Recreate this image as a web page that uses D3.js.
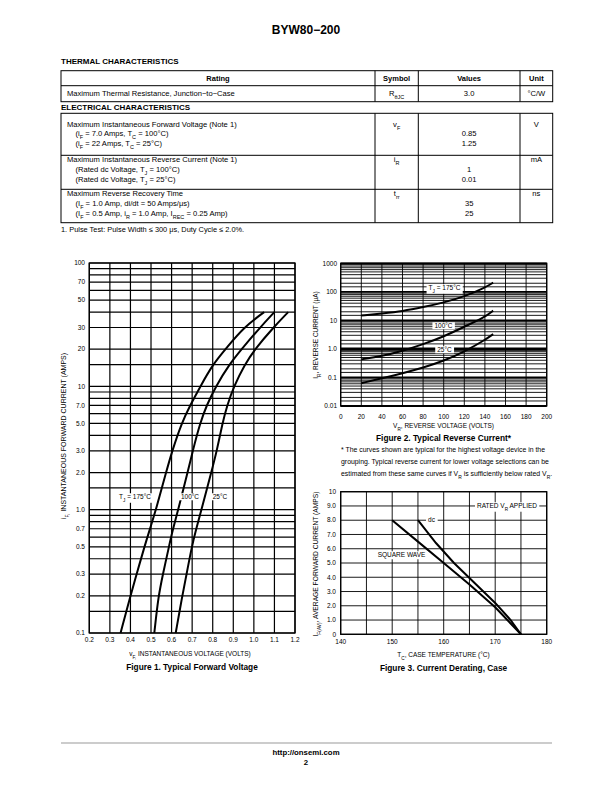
<html>
<head>
  <script src="https://d3js.org/d3.v7.min.js"></script>
  <style>
    body { margin: 0; background: #fff; }
    text { font-family: "Liberation Sans", Arial, Helvetica, sans-serif; fill: #000; }
    .grid line { stroke: #000; stroke-width: 0.9; }
    #fig1 .grid line { stroke-width: 1.2; }
    .frame { fill: none; stroke: #000; stroke-width: 1.3; }
    .curve { fill: none; stroke: #000; stroke-width: 2; }
  </style>
</head>
<body>
  <svg id="page" width="612" height="792"></svg>
  <script>
    // ---- table data ----
    const thermalHeader = ["Rating", "Symbol", "Values", "Unit"];
    const thermalRow = ["Maximum Thermal Resistance, Junction\u2212to\u2212Case", "R_{\u03b8JC}", "3.0", "\u00b0C/W"];
    const elecRows = [
      { lines: ["Maximum Instantaneous Forward Voltage (Note 1)", "(i_{F} = 7.0 Amps, T_{C} = 100\u00b0C)", "(i_{F} = 22 Amps, T_{C} = 25\u00b0C)"],
        symbol: "v_{F}", values: ["0.85", "1.25"], unit: "V" },
      { lines: ["Maximum Instantaneous Reverse Current (Note 1)", "(Rated dc Voltage, T_{J} = 100\u00b0C)", "(Rated dc Voltage, T_{J} = 25\u00b0C)"],
        symbol: "i_{R}", values: ["1", "0.01"], unit: "mA" },
      { lines: ["Maximum Reverse Recovery Time", "(I_{F} = 1.0 Amp, di/dt = 50 Amps/\u03bcs)", "(I_{F} = 0.5 Amp, i_{R} = 1.0 Amp, I_{REC} = 0.25 Amp)"],
        symbol: "t_{rr}", values: ["35", "25"], unit: "ns" }
    ];
    const noteText = "1.  Pulse Test: Pulse Width \u2264 300 \u03bcs, Duty Cycle \u2264 2.0%.";

    // ---- figure 1: forward voltage (v, i) ----
    const f1XTicks = [0.2, 0.3, 0.4, 0.5, 0.6, 0.7, 0.8, 0.9, 1.0, 1.1, 1.2];
    const f1YLabels = [0.1, 0.2, 0.3, 0.5, 0.7, 1, 2, 3, 5, 7, 10, 20, 30, 50, 70, 100];
    const f1Minor = [1, 1.5, 2, 3, 4, 5, 6, 7, 8, 9];
    const f1T175 = [[0.352, 0.1], [0.40, 0.2], [0.43, 0.3], [0.468, 0.5], [0.495, 0.7], [0.524, 1], [0.573, 2], [0.603, 3], [0.648, 5], [0.69, 7], [0.74, 10], [0.80, 15], [0.862, 20], [0.95, 30], [1.05, 40]];
    const f1T100 = [[0.516, 0.1], [0.536, 0.2], [0.558, 0.3], [0.587, 0.5], [0.607, 0.7], [0.632, 1], [0.678, 2], [0.703, 3], [0.738, 5], [0.77, 7], [0.815, 10], [0.88, 15], [0.94, 20], [1.03, 30], [1.10, 40]];
    const f1T25 = [[0.62, 0.1], [0.652, 0.2], [0.673, 0.3], [0.698, 0.5], [0.72, 0.7], [0.745, 1], [0.793, 2], [0.82, 3], [0.847, 5], [0.87, 7], [0.903, 10], [0.955, 15], [1.005, 20], [1.095, 30], [1.167, 40]];

    // ---- figure 2: reverse current (VR, IR uA) ----
    const f2XTicks = [0, 20, 40, 60, 80, 100, 120, 140, 160, 180, 200];
    const f2YLabels = [0.01, 0.1, 1, 10, 100, 1000];
    const f2Minor = [1, 1.5, 2, 3, 4, 5, 6, 7, 8, 9];
    const f2T175 = [[20, 14.7], [40, 17.5], [60, 21], [80, 29], [100, 42], [120, 68], [140, 140], [148, 210]];
    const f2T100 = [[20, 0.43], [40, 0.56], [60, 0.85], [80, 1.45], [100, 2.7], [120, 6], [140, 13], [148, 22]];
    const f2T25 = [[20, 0.063], [40, 0.093], [60, 0.14], [80, 0.22], [100, 0.38], [120, 0.8], [140, 2.05], [148, 3.3]];
    const f2Note = [
      "* The curves shown are typical for the highest voltage device in the",
      "grouping. Typical reverse current for lower voltage selections can be",
      "estimated from these same curves if V_{R} is sufficiently below rated V_{R}."
    ];

    // ---- figure 3: current derating (Tc, IF(AV)) ----
    const f3XTicks = [140, 150, 160, 170, 180];
    const f3XGrid = [140, 145, 150, 155, 160, 165, 170, 175, 180];
    const f3YTicks = [0, 1, 2, 3, 4, 5, 6, 7, 8, 9, 10];
    const f3Dc = [[155, 8], [158.5, 6.4], [162, 5], [166, 3.6], [170, 2.2], [173, 1], [175, 0]];
    const f3Square = [[150, 8], [155, 6.5], [160, 5.0], [165, 3.5], [170, 1.9], [175, 0]];

    const svg = d3.select("#page");
    svg.append("rect").attr("width", 612).attr("height", 792).attr("fill", "#fff");

    // text with _{sub} markup
    function rich(sel, str) {
      const re = /_\{([^}]*)\}/g;
      let last = 0, m;
      while ((m = re.exec(str))) {
        if (m.index > last) sel.append("tspan").text(str.slice(last, m.index));
        sel.append("tspan").attr("baseline-shift", "sub").attr("font-size", "72%").text(m[1]);
        last = re.lastIndex;
      }
      if (last < str.length) sel.append("tspan").text(str.slice(last));
      return sel;
    }
    function label(g, x, y, str, size, anchor, weight) {
      const t = g.append("text").attr("x", x).attr("y", y)
        .attr("font-size", size).attr("text-anchor", anchor || "start")
        .attr("font-weight", weight || "normal").attr("dy", "0.35em");
      return rich(t, str);
    }
    function boxed(g, x, y, str, size, anchor) {
      const t = label(g, x, y, str, size, anchor);
      const b = t.node().getBBox();
      g.insert("rect", function () { return t.node(); })
        .attr("x", b.x - 2).attr("y", b.y).attr("width", b.width + 4).attr("height", b.height)
        .attr("fill", "#fff");
      return t;
    }

    // ---- header ----
    label(svg, 306, 30, "BYW80\u2212200", 12, "middle", "bold");
    label(svg, 61, 61, "THERMAL CHARACTERISTICS", 8, "start", "bold");

    const colX = [61, 375, 418.3, 520, 552.7];
    const colMid = d3.range(4).map(i => (colX[i] + colX[i + 1]) / 2);
    const tbl = svg.append("g").attr("stroke", "#000").attr("stroke-width", 1);
    function tableBox(top, rowsY) {
      tbl.append("rect").attr("x", colX[0]).attr("y", top).attr("width", colX[4] - colX[0])
        .attr("height", rowsY[rowsY.length - 1] - top).attr("fill", "none");
      colX.slice(1, 4).forEach(x => tbl.append("line").attr("x1", x).attr("x2", x).attr("y1", top).attr("y2", rowsY[rowsY.length - 1]));
      rowsY.slice(0, -1).forEach(y => tbl.append("line").attr("x1", colX[0]).attr("x2", colX[4]).attr("y1", y).attr("y2", y));
    }
    tableBox(70.7, [85.7, 101.7]);
    thermalHeader.forEach((h, i) => label(svg, colMid[i], 78.2, h, 7.5, "middle", "bold"));
    label(svg, 67, 93.5, thermalRow[0], 7.6);
    thermalRow.slice(1).forEach((v, i) => label(svg, colMid[i + 1], 93.5, v, 7.6, "middle"));

    label(svg, 61, 107.5, "ELECTRICAL CHARACTERISTICS", 8, "start", "bold");
    const rowTops = [113.3, 155.3, 189.3, 222.7];
    const rowText = [124, 159.3, 193.6];
    tableBox(113.3, rowTops.slice(1));
    elecRows.forEach((r, i) => {
      const y0 = rowText[i];
      r.lines.forEach((ln, j) => label(svg, j === 0 ? 67 : 75.5, y0 + j * 9.8, ln, 7.6));
      label(svg, colMid[1], y0, r.symbol, 7.6, "middle");
      r.values.forEach((v, j) => label(svg, colMid[2], y0 + (j + 1) * 9.8, v, 7.6, "middle"));
      label(svg, colMid[3], y0, r.unit, 7.6, "middle");
    });
    label(svg, 61, 229.5, noteText, 7.4);

    // ---- generic log/linear chart helpers ----
    function decadeLines(lo, hi, minor) {
      const out = [];
      for (let d = lo; d < hi * 0.999; d *= 10) minor.forEach(k => out.push(d * k));
      out.push(hi);
      return out;
    }
    function gridV(g, xs, vals, y) {
      g.append("g").attr("class", "grid").selectAll("line").data(vals).join("line")
        .attr("x1", d => xs(d)).attr("x2", d => xs(d)).attr("y1", y.range()[0]).attr("y2", y.range()[1]);
    }
    function gridH(g, ys, vals, x, thick) {
      g.append("g").attr("class", "grid").selectAll("line").data(vals).join("line")
        .attr("x1", x.range()[0]).attr("x2", x.range()[1]).attr("y1", d => ys(d)).attr("y2", d => ys(d))
        .style("stroke-width", d => thick ? thick(d) : null);
    }
    function frame(g, x, y) {
      g.append("rect").attr("class", "frame")
        .attr("x", x.range()[0]).attr("y", y.range()[1])
        .attr("width", x.range()[1] - x.range()[0]).attr("height", y.range()[0] - y.range()[1]);
    }
    function curve(g, x, y, pts, kind) {
      const line = d3.line().x(d => x(d[0])).y(d => y(d[1])).curve(kind || d3.curveBasis);
      g.append("path").attr("class", "curve").attr("d", line(pts));
    }
    const fmtDec = d => d < 10 ? d.toFixed(1) : String(d);

    // ---- Figure 1 ----
    const g1 = svg.append("g").attr("id", "fig1");
    const x1 = d3.scaleLinear().domain([0.2, 1.2]).range([89.3, 295]);
    const y1 = d3.scaleLog().domain([0.1, 100]).range([633, 263]);
    gridH(g1, y1, decadeLines(0.1, 100, f1Minor), x1);
    gridV(g1, x1, f1XTicks, y1);
    frame(g1, x1, y1);
    [f1T175, f1T100, f1T25].forEach(c => curve(g1, x1, y1, c));
    f1XTicks.forEach(v => label(g1, x1(v), 639.5, v.toFixed(1), 6.5, "middle"));
    f1YLabels.forEach(v => label(g1, 85, y1(v), fmtDec(v), 6.5, "end"));
    boxed(g1, 135, 497, "T_{J} = 175\u00b0C", 6.5, "middle");
    boxed(g1, 190, 497, "100\u00b0C", 6.5, "middle");
    boxed(g1, 220, 497, "25\u00b0C", 6.5, "middle");
    label(g1, 190, 654, "v_{F,} INSTANTANEOUS VOLTAGE (VOLTS)", 6.5, "middle");
    label(g1.append("g").attr("transform", "translate(64,436) rotate(-90)"), 0, 0,
      "i_{F,} INSTANTANEOUS FORWARD CURRENT (AMPS)", 7, "middle");
    label(g1, 192, 667.5, "Figure 1. Typical Forward Voltage", 8.3, "middle", "bold");

    // ---- Figure 2 ----
    const g2 = svg.append("g");
    const x2 = d3.scaleLinear().domain([0, 200]).range([340.7, 546.7]);
    const y2 = d3.scaleLog().domain([0.01, 1000]).range([406, 263.3]);
    gridH(g2, y2, decadeLines(0.01, 1000, f2Minor), x2, d => {
      const v = +d.toPrecision(3);
      return v === 1 ? 3 : f2YLabels.includes(v) ? 1.8 : null;
    });
    gridV(g2, x2, f2XTicks, y2);
    frame(g2, x2, y2);
    [f2T175, f2T100, f2T25].forEach(c => curve(g2, x2, y2, c));
    f2XTicks.forEach(v => label(g2, x2(v), 416.5, String(v), 6.5, "middle"));
    f2YLabels.forEach(v => label(g2, 337, y2(v), v >= 10 ? String(v) : String(v < 1 ? v : "1.0"), 6.5, "end"));
    boxed(g2, 444.5, 288, "T_{J} = 175\u00b0C", 6.5, "middle");
    boxed(g2, 443.5, 326, "100\u00b0C", 6.5, "middle");
    boxed(g2, 444.5, 350, "25\u00b0C", 6.5, "middle");
    label(g2, 443.5, 425.5, "V_{R}, REVERSE VOLTAGE (VOLTS)", 6.5, "middle");
    label(g2.append("g").attr("transform", "translate(316,335) rotate(-90)"), 0, 0,
      "I_{R}, REVERSE CURRENT (\u03bcA)", 6.5, "middle");
    label(g2, 443.5, 438.5, "Figure 2. Typical Reverse Current*", 8.3, "middle", "bold");
    f2Note.forEach((ln, i) => label(g2, 341, 450 + i * 12, ln, 6.9));

    // ---- Figure 3 ----
    const g3 = svg.append("g");
    const x3 = d3.scaleLinear().domain([140, 180]).range([340.7, 546.7]);
    const y3 = d3.scaleLinear().domain([0, 10]).range([634.3, 491.7]);
    gridH(g3, y3, f3YTicks, x3);
    gridV(g3, x3, f3XGrid, y3);
    frame(g3, x3, y3);
    curve(g3, x3, y3, f3Dc, d3.curveLinear);
    curve(g3, x3, y3, f3Square, d3.curveLinear);
    f3XTicks.forEach(v => label(g3, x3(v), 641.5, String(v), 6.5, "middle"));
    f3YTicks.forEach(v => label(g3, 336, y3(v), v === 0 || v === 10 ? String(v) : v.toFixed(1), 6.5, "end"));
    boxed(g3, 507, y3(9), "RATED V_{R} APPLIED", 6.5, "middle");
    boxed(g3, 431.5, y3(8), "dc", 6.5, "middle");
    boxed(g3, 401.5, 555, "SQUARE WAVE", 6.5, "middle");
    label(g3, 443.5, 655, "T_{C}, CASE TEMPERATURE (\u00b0C)", 6.5, "middle");
    label(g3.append("g").attr("transform", "translate(316,564) rotate(-90)"), 0, 0,
      "I_{F(AV)}, AVERAGE FORWARD CURRENT (AMPS)", 6.7, "middle");
    label(g3, 443.5, 668, "Figure 3. Current Derating, Case", 8.3, "middle", "bold");

    // ---- footer ----
    svg.append("line").attr("x1", 61).attr("x2", 552).attr("y1", 743).attr("y2", 743)
      .attr("stroke", "#999").attr("stroke-width", 1.2);
    label(svg, 306, 752.5, "http://onsemi.com", 7.8, "middle", "bold");
    label(svg, 306, 762.5, "2", 7.8, "middle", "bold");
  </script>
</body>
</html>
